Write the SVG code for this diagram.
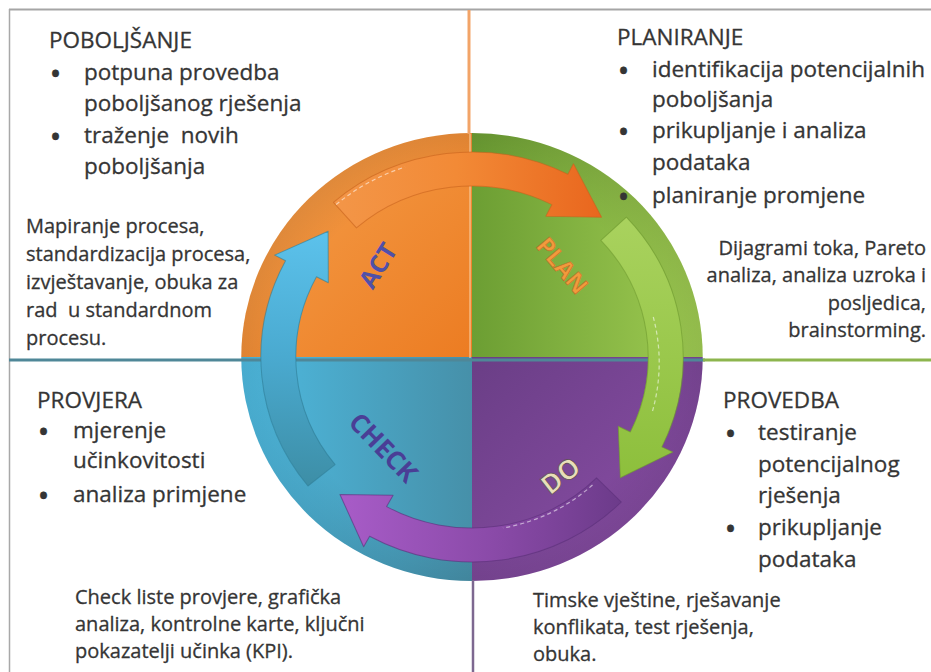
<svg xmlns="http://www.w3.org/2000/svg" width="931" height="672" viewBox="0 0 931 672">
<style>
text{font-family:"Open Sans","Noto Sans",sans-serif;fill:#353535;stroke:#353535;stroke-width:0.3}
.h{font-size:22.5px}
.t{font-size:22.5px}
.s{font-size:20px}
.b{font-size:24px;font-weight:700}
.pre{white-space:pre}
.lbl{font-weight:700;text-anchor:middle;dominant-baseline:central}
.dash{fill:none;stroke:#ffffff;stroke-opacity:0.55;stroke-width:1.2;stroke-dasharray:4 3}
</style>
<defs>
<linearGradient id="gOr" x1="0" y1="0" x2="1" y2="1"><stop offset="0" stop-color="#F5A04C"/><stop offset="1" stop-color="#EC7C22"/></linearGradient>
<linearGradient id="gGr" x1="0" y1="0" x2="1" y2="0"><stop offset="0" stop-color="#6C9E33"/><stop offset="1" stop-color="#9FCB52"/></linearGradient>
<linearGradient id="gPu" x1="0" y1="0" x2="1" y2="1"><stop offset="0" stop-color="#6A3E86"/><stop offset="1" stop-color="#8E50AA"/></linearGradient>
<linearGradient id="gBl" x1="0" y1="0" x2="1" y2="0"><stop offset="0" stop-color="#4EBAE0"/><stop offset="1" stop-color="#4690A9"/></linearGradient>
<linearGradient id="aOr" gradientUnits="userSpaceOnUse" x1="-134" y1="-150" x2="126" y2="-140"><stop offset="0" stop-color="#F39648"/><stop offset="0.45" stop-color="#F28A36"/><stop offset="1" stop-color="#E9661E"/></linearGradient>
<linearGradient id="aGr" gradientUnits="userSpaceOnUse" x1="150" y1="-140" x2="144" y2="121"><stop offset="0" stop-color="#A9D25E"/><stop offset="1" stop-color="#8DBF3C"/></linearGradient>
<linearGradient id="aPu" gradientUnits="userSpaceOnUse" x1="145" y1="145" x2="-128" y2="137"><stop offset="0" stop-color="#6C3B8A"/><stop offset="0.45" stop-color="#8A4AA8"/><stop offset="1" stop-color="#A85CC8"/></linearGradient>
<linearGradient id="aBl" gradientUnits="userSpaceOnUse" x1="-159" y1="129" x2="-140" y2="-126"><stop offset="0" stop-color="#3D8EA6"/><stop offset="0.5" stop-color="#4AAAD0"/><stop offset="1" stop-color="#5CC2EC"/></linearGradient>
<radialGradient id="shade" cx="0.5" cy="0.5" r="0.5"><stop offset="0.8" stop-color="#000" stop-opacity="0"/><stop offset="1" stop-color="#000" stop-opacity="0.08"/></radialGradient>
</defs>

<g id="frame">
<line x1="9" y1="9.5" x2="931" y2="9.5" stroke="#A5A5A5" stroke-width="2"/>
<line x1="9.5" y1="9" x2="9.5" y2="672" stroke="#A8A8A8" stroke-width="1.5"/>
</g>

<g id="cycle" transform="translate(472 357) scale(1.03 1)">
<path d="M0 0 L-224 0 A224 224 0 0 1 0 -224 Z" fill="url(#gOr)"/>
<path d="M0 0 L0 -224 A224 224 0 0 1 224 0 Z" fill="url(#gGr)"/>
<path d="M0 0 L224 0 A224 224 0 0 1 0 224 Z" fill="url(#gPu)"/>
<path d="M0 0 L0 224 A224 224 0 0 1 -224 0 Z" fill="url(#gBl)"/>
<circle r="224" fill="url(#shade)"/>
</g>

<g id="dividers">
<line x1="469" y1="10" x2="469" y2="134" stroke="#F2A468" stroke-width="3"/>
<line x1="470" y1="134" x2="470" y2="358" stroke="#F7C898" stroke-width="1.5" stroke-opacity="0.8"/>
<line x1="9" y1="360" x2="705" y2="360" stroke="#4F8798" stroke-width="3"/>
<line x1="703" y1="360" x2="931" y2="360" stroke="#8DB54E" stroke-width="3"/>
<line x1="473" y1="580" x2="473" y2="672" stroke="#7D6890" stroke-width="2.5"/>
</g>

<g id="connectors" transform="translate(472 357) scale(1.03 1)" stroke-linejoin="round">
<path id="arrow-act-plan" d="M-134.5 -154.7 A205 205 0 0 1 93.1 -182.7 L98.5 -193.3 L125.8 -139.7 L71.7 -140.8 L77.6 -152.4 A171 171 0 0 0 -112.2 -129.1 Z" fill="url(#aOr)" stroke="#C8621C" stroke-width="1" stroke-opacity="0.6"/>
<path id="arrow-plan-do" d="M149.9 -139.8 A205 205 0 0 1 184.3 89.9 L195.0 95.1 L144.0 120.8 L142.0 69.3 L153.7 75.0 A171 171 0 0 0 125.1 -116.6 Z" fill="url(#aGr)" stroke="#6E9A2E" stroke-width="1" stroke-opacity="0.6"/>
<path id="arrow-do-check" d="M145.0 145.0 A205 205 0 0 1 -99.4 179.3 L-105.2 189.8 L-128.2 137.5 L-76.6 138.2 L-82.9 149.6 A171 171 0 0 0 120.9 120.9 Z" fill="url(#aPu)" stroke="#5A2E78" stroke-width="1" stroke-opacity="0.6"/>
<path id="arrow-check-act" d="M-159.3 129.0 A205 205 0 0 1 -181.0 -96.2 L-191.6 -101.9 L-139.7 -125.8 L-139.5 -74.2 L-151.0 -80.3 A171 171 0 0 0 -132.9 107.6 Z" fill="url(#aBl)" stroke="#2F7D96" stroke-width="1" stroke-opacity="0.6"/>
<path class="dash" d="M-131.9 -152.5 A201 201 0 0 1 -65 -190"/>
<path class="dash" d="M176 -40 A184 184 0 0 1 175 55"/>
<path class="dash" d="M117 128 A174 174 0 0 1 30 171"/>
</g>

<g id="label-act"><text class="lbl" x="377" y="265" transform="rotate(-58 377 265)" font-size="25" style="fill:#5050A8;stroke:none">ACT</text></g>
<g id="label-plan"><text class="lbl" x="563" y="265" transform="rotate(50 563 265)" font-size="24" style="fill:#F29A3C;stroke:#C46A26;stroke-width:0.6">PLAN</text></g>
<g id="label-check"><text class="lbl" x="384" y="447" transform="rotate(46 384 447)" font-size="26" style="fill:#4A3E96;stroke:none">CHECK</text></g>
<g id="label-do"><text class="lbl" x="560" y="475" transform="rotate(-38 560 475)" font-size="27" style="fill:#E9DFB8;stroke:#5E4C5A;stroke-width:0.8">DO</text></g>

<g id="poboljsanje">
<text class="h" x="49" y="48">POBOLJŠANJE</text>
<text class="b" x="51" y="82">•</text>
<text class="t" x="84" y="80">potpuna provedba</text>
<text class="t" x="84" y="111">poboljšanog rješenja</text>
<text class="b" x="51" y="145">•</text>
<text class="t pre" x="84" y="143">traženje  novih</text>
<text class="t" x="84" y="174">poboljšanja</text>
<text class="s" x="26" y="233">Mapiranje procesa,</text>
<text class="s" x="26" y="261">standardizacija procesa,</text>
<text class="s" x="26" y="289">izvještavanje, obuka za</text>
<text class="s pre" x="26" y="317">rad  u standardnom</text>
<text class="s" x="26" y="345">procesu.</text>
</g>

<g id="planiranje">
<text class="h" x="617" y="45">PLANIRANJE</text>
<text class="b" x="619" y="79">•</text>
<text class="t" x="652" y="77">identifikacija potencijalnih</text>
<text class="t" x="652" y="107">poboljšanja</text>
<text class="b" x="619" y="140">•</text>
<text class="t" x="652" y="138">prikupljanje i analiza</text>
<text class="t" x="652" y="170">podataka</text>
<text class="b" x="619" y="205">•</text>
<text class="t" x="652" y="203">planiranje promjene</text>
<text class="s" x="926" y="255" text-anchor="end">Dijagrami toka, Pareto</text>
<text class="s" x="926" y="282" text-anchor="end">analiza, analiza uzroka i</text>
<text class="s" x="926" y="310" text-anchor="end">posljedica,</text>
<text class="s" x="926" y="337" text-anchor="end">brainstorming.</text>
</g>

<g id="provjera">
<text class="h" x="37" y="408">PROVJERA</text>
<text class="b" x="39" y="440">•</text>
<text class="t" x="73" y="438">mjerenje</text>
<text class="t" x="73" y="468">učinkovitosti</text>
<text class="b" x="39" y="504">•</text>
<text class="t" x="73" y="502">analiza primjene</text>
<text class="s" x="75" y="604">Check liste provjere, grafička</text>
<text class="s" x="75" y="631">analiza, kontrolne karte, ključni</text>
<text class="s" x="75" y="658">pokazatelji učinka (KPI).</text>
</g>

<g id="provedba">
<text class="h" x="723" y="408">PROVEDBA</text>
<text class="b" x="726" y="442">•</text>
<text class="t" x="758" y="440">testiranje</text>
<text class="t" x="758" y="472">potencijalnog</text>
<text class="t" x="758" y="503">rješenja</text>
<text class="b" x="726" y="537">•</text>
<text class="t" x="758" y="535">prikupljanje</text>
<text class="t" x="758" y="567">podataka</text>
<text class="s" x="533" y="607">Timske vještine, rješavanje</text>
<text class="s" x="533" y="634">konflikata, test rješenja,</text>
<text class="s" x="533" y="661">obuka.</text>
</g>
</svg>
